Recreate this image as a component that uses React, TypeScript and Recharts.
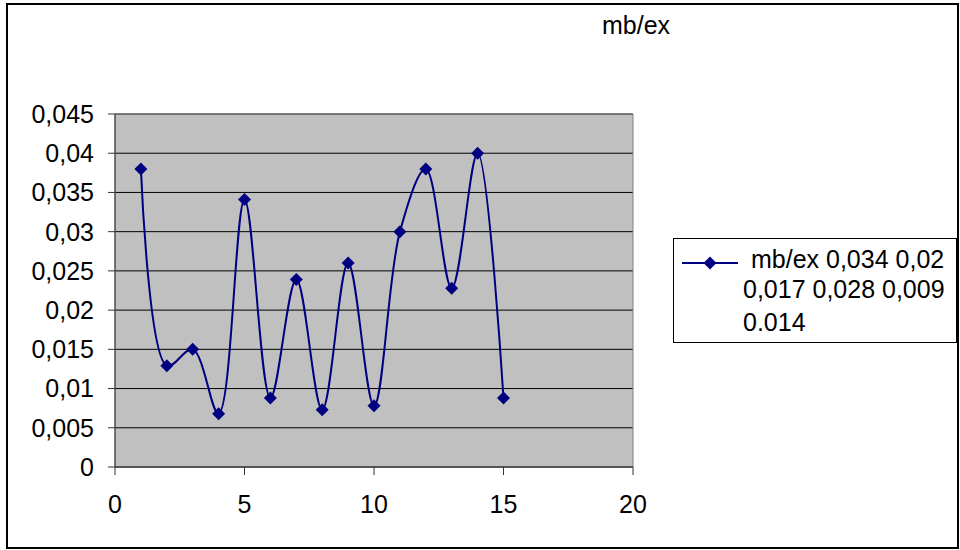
import { LineChart, Line, XAxis, YAxis, CartesianGrid, ReferenceArea } from "recharts";

const xValues = [1, 2, 3, 4, 5, 6, 7, 8, 9, 10, 11, 12, 13, 14, 15];
const yValues = [0.038, 0.0129, 0.015, 0.0068, 0.0341, 0.0088, 0.0239, 0.0073, 0.026, 0.0078, 0.03, 0.038, 0.0228, 0.04, 0.0088];
const xTicks = [0, 5, 10, 15, 20];
const yTicks = [0, 0.005, 0.01, 0.015, 0.02, 0.025, 0.03, 0.035, 0.04, 0.045];
const seriesName = "mb/ex";
const legendLines = ["mb/ex 0,034 0,02", "0,017 0,028 0,009", "0.014"];

const data = xValues.map((x, i) => ({ x, y: yValues[i] }));

const FONT = "'Liberation Sans', Arial, sans-serif";
const NAVY = "#000080";

// smoothed line like Excel: centripetal Catmull-Rom through every point
function smoothCurve(context: any) {
  let pts: number[][] = [];
  const dist = (a: number[], b: number[]) => Math.sqrt(Math.hypot(b[0] - a[0], b[1] - a[1]));
  return {
    areaStart() {},
    areaEnd() {},
    lineStart() {
      pts = [];
    },
    point(x: number, y: number) {
      pts.push([+x, +y]);
    },
    lineEnd() {
      if (!pts.length) return;
      context.moveTo(pts[0][0], pts[0][1]);
      for (let i = 0; i < pts.length - 1; i++) {
        const p0 = pts[i - 1] || pts[i];
        const p1 = pts[i];
        const p2 = pts[i + 1];
        const p3 = pts[i + 2] || pts[i + 1];
        const l01 = dist(p0, p1);
        const l12 = dist(p1, p2);
        const l23 = dist(p2, p3);
        let c1 = [p1[0], p1[1]];
        let c2 = [p2[0], p2[1]];
        if (l01 > 1e-9) {
          const a = 2 * l01 * l01 + 3 * l01 * l12 + l12 * l12;
          const n = 3 * l01 * (l01 + l12);
          c1 = [0, 1].map((k) => (p1[k] * a - p0[k] * l12 * l12 + p2[k] * l01 * l01) / n);
        }
        if (l23 > 1e-9) {
          const b = 2 * l23 * l23 + 3 * l23 * l12 + l12 * l12;
          const m = 3 * l23 * (l23 + l12);
          c2 = [0, 1].map((k) => (p2[k] * b + p1[k] * l23 * l23 - p3[k] * l12 * l12) / m);
        }
        context.bezierCurveTo(c1[0], c1[1], c2[0], c2[1], p2[0], p2[1]);
      }
    },
  };
}

const diamond = (cx: number, cy: number, r: number) => `M${cx},${cy - r}L${cx + r},${cy}L${cx},${cy + r}L${cx - r},${cy}Z`;

const renderDot = (props: any) => {
  const { cx, cy, index } = props;
  return <path key={`dot-${index}`} d={diamond(cx, cy, 6.5)} fill={NAVY} />;
};

const formatY = (v: number) => (v === 0 ? "0" : v.toFixed(3).replace(/0+$/, "").replace(".", ","));

export default function App() {
  return (
    <div style={{ position: "absolute", left: 0, top: 0, width: 960, height: 550, background: "#fff", fontFamily: FONT }}>
      <div style={{ position: "absolute", left: 6, top: 3, width: 953, height: 546, border: "2px solid #000", boxSizing: "border-box" }} />
      <div style={{ position: "absolute", left: 0, top: 0 }}>
        <LineChart width={960} height={550} data={data} margin={{ top: 114, right: 327, bottom: 33, left: 55 }}>
          <CartesianGrid fill="#C0C0C0" fillOpacity={1} vertical={false} stroke="#000" />
          <ReferenceArea x1={0} x2={20} y1={0} y2={0.045} fill="none" stroke="#808080" strokeWidth={1} />
          <XAxis
            type="number"
            dataKey="x"
            domain={[0, 20]}
            ticks={xTicks}
            height={50}
            tickSize={8}
            tickMargin={20}
            stroke="#333"
            tick={{ fill: "#000", fontSize: 25, fontFamily: FONT }}
          />
          <YAxis
            type="number"
            domain={[0, 0.045]}
            ticks={yTicks}
            width={60}
            tickSize={7}
            tickMargin={14}
            stroke="#333"
            tickFormatter={formatY}
            tick={{ fill: "#000", fontSize: 25, fontFamily: FONT }}
          />
          <Line
            dataKey="y"
            name={seriesName}
            type={smoothCurve as any}
            stroke={NAVY}
            strokeWidth={2}
            dot={renderDot}
            activeDot={false}
            isAnimationActive={false}
          />
        </LineChart>
      </div>
      <svg width={960} height={550} style={{ position: "absolute", left: 0, top: 0, pointerEvents: "none" }}>
        <text x={602} y={34} fontSize={25} fontFamily={FONT} fill="#000">
          {seriesName}
        </text>
        <rect x={673.5} y={238.5} width={283} height={104} fill="#fff" stroke="#000" strokeWidth={1} />
        <line x1={682} x2={738} y1={263} y2={263} stroke={NAVY} strokeWidth={2} />
        <path d={diamond(710, 263, 6.5)} fill={NAVY} />
        <text x={751} y={268} fontSize={25} fontFamily={FONT} fill="#000">
          {legendLines[0]}
        </text>
        <text x={743} y={298} fontSize={25} fontFamily={FONT} fill="#000">
          {legendLines[1]}
        </text>
        <text x={743} y={331} fontSize={25} fontFamily={FONT} fill="#000">
          {legendLines[2]}
        </text>
      </svg>
    </div>
  );
}
